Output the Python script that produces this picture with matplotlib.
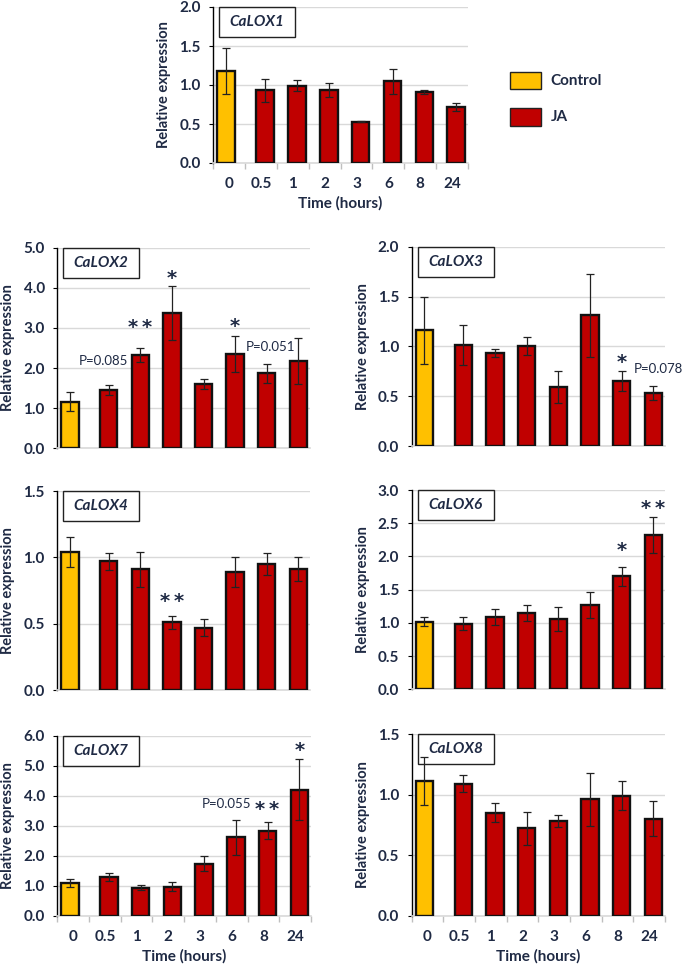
import matplotlib
matplotlib.use("Agg")
import matplotlib.pyplot as plt
from matplotlib.patches import Rectangle
from matplotlib.ticker import FormatStrFormatter, FixedLocator, MultipleLocator

plt.rcParams['font.family'] = ['Lato', 'DejaVu Sans']

times = ['0', '0.5', '1', '2', '3', '6', '8', '24']

lox1 = [1.18, 0.93, 0.99, 0.93, 0.53, 1.05, 0.91, 0.72]
err1 = [0.29, 0.15, 0.07, 0.09, 0.01, 0.16, 0.02, 0.05]
lox2 = [1.16, 1.45, 2.33, 3.38, 1.60, 2.36, 1.87, 2.18]
err2 = [0.24, 0.13, 0.18, 0.67, 0.12, 0.45, 0.23, 0.57]
lox3 = [1.16, 1.01, 0.93, 1.00, 0.59, 1.31, 0.65, 0.53]
err3 = [0.34, 0.20, 0.04, 0.09, 0.16, 0.42, 0.10, 0.07]
lox4 = [1.04, 0.97, 0.91, 0.51, 0.47, 0.89, 0.95, 0.91]
err4 = [0.11, 0.065, 0.13, 0.05, 0.065, 0.115, 0.08, 0.09]
lox6 = [1.02, 0.99, 1.09, 1.15, 1.06, 1.27, 1.70, 2.32]
err6 = [0.07, 0.10, 0.12, 0.12, 0.18, 0.19, 0.14, 0.27]
lox7 = [1.09, 1.28, 0.93, 0.97, 1.74, 2.61, 2.83, 4.20]
err7 = [0.12, 0.13, 0.08, 0.16, 0.24, 0.59, 0.28, 1.02]
lox8 = [1.11, 1.09, 0.85, 0.72, 0.78, 0.96, 0.99, 0.80]
err8 = [0.20, 0.07, 0.08, 0.135, 0.05, 0.22, 0.12, 0.145]

# annotations: (x position in category units, y, text)
ann2 = [(0.95, 2.18, 'P=0.085'), (2.13, 3.18, '**'), (3.13, 4.40, '*'), (5.13, 3.21, '*'), (6.25, 2.53, 'P=0.051')]
ann3 = [(6.13, 0.91, '*'), (7.29, 0.77, 'P=0.078')]
ann4 = [(3.13, 0.72, '**')]
ann6 = [(6.13, 2.20, '*'), (7.13, 2.82, '**')]
ann7 = [(4.85, 3.74, 'P=0.055'), (6.13, 3.77, '**'), (7.13, 5.74, '*')]
ann8 = []
ann1 = []

CTRL = '#FFC000'
JA = '#C00000'
TXT = '#1F2A44'
GRID = '#D9D9D9'

W, H = 685, 969
fig = plt.figure(figsize=(W / 100, H / 100), dpi=100)


def px_axes(l, t, r, b):
    return fig.add_axes([l / W, 1 - b / H, (r - l) / W, (b - t) / H])


panels = [
    ('CaLOX1', lox1, err1, ann1, 2.0, 0.5, (213.3, 7, 468, 163), True),
    ('CaLOX2', lox2, err2, ann2, 5.0, 1.0, (57.3, 247.7, 310, 448.3), False),
    ('CaLOX3', lox3, err3, ann3, 2.0, 0.5, (411.7, 246.7, 665, 446), False),
    ('CaLOX4', lox4, err4, ann4, 1.5, 0.5, (57.3, 491, 310, 690), False),
    ('CaLOX6', lox6, err6, ann6, 3.0, 0.5, (411.7, 490, 665, 689.3), False),
    ('CaLOX7', lox7, err7, ann7, 6.0, 1.0, (57.3, 735.7, 311, 915.7), True),
    ('CaLOX8', lox8, err8, ann8, 1.5, 0.5, (411.7, 734, 665, 915.7), True),
]

OFF_C, OFF_J, BW = -0.10, 0.13, 0.55

for name, vals, errs, anns, ymax, step, (l, t, r, b), xlab in panels:
    ax = px_axes(l, t, r, b)
    n = len(times)
    xs = [0 + OFF_C] + [i + OFF_J for i in range(1, n)]
    cols = [CTRL] + [JA] * (n - 1)
    ax.bar(xs, vals, width=BW, color=cols, edgecolor='#111111', linewidth=1.7, zorder=3)
    ax.errorbar(xs, vals, yerr=errs, fmt='none', ecolor='#222222', elinewidth=0.9,
                capsize=3, capthick=0.9, zorder=4)
    ax.set_xlim(-0.5, n - 0.5)
    ax.set_ylim(0, ymax)
    ax.yaxis.set_major_locator(MultipleLocator(step))
    ax.yaxis.set_major_formatter(FormatStrFormatter('%.1f'))
    ax.grid(axis='y', color=GRID, linewidth=1.0, zorder=0)
    ax.set_axisbelow(True)
    for s in ['top', 'right']:
        ax.spines[s].set_visible(False)
    ax.spines['left'].set_color('#000000')
    ax.spines['left'].set_linewidth(1.0)
    ax.spines['bottom'].set_color(GRID)
    ax.spines['bottom'].set_linewidth(1.2)
    ax.tick_params(axis='y', direction='out', length=3, width=0.8, color='#000000',
                   labelsize=11, labelcolor=TXT, pad=6)
    for lb in ax.get_yticklabels():
        lb.set_fontweight('bold')
    if xlab:
        ax.set_xticks(range(n))
        ax.set_xticklabels(times, fontsize=11, fontweight='bold', color=TXT)
        ax.tick_params(axis='x', which='major', length=0, pad=10)
        ax.xaxis.set_minor_locator(FixedLocator([i - 0.5 for i in range(n + 1)]))
        ax.tick_params(axis='x', which='minor', direction='out', length=4, width=1.0, color='#BFBFBF')
        ax.set_xlabel('Time (hours)', fontsize=11, fontweight='bold', color=TXT, labelpad=4)
    else:
        ax.set_xticks([])
    ax.set_ylabel('Relative expression', fontsize=10.5, fontweight='bold', color=TXT)
    awpx = r - l
    ahpx = b - t
    ax.yaxis.set_label_coords(-42 / awpx, 0.5)
    # name box
    bx0 = 6 / awpx
    bw = 76 / awpx
    bh = 30 / ahpx
    ax.add_patch(Rectangle((bx0, 1 - bh), bw, bh, transform=ax.transAxes, facecolor='none',
                           edgecolor='#222222', linewidth=1.0, zorder=5, clip_on=False))
    ax.text(bx0 + bw / 2, 1 - bh / 2, name, transform=ax.transAxes, ha='center', va='center',
            fontsize=11, fontweight='bold', fontstyle='italic', color=TXT, zorder=6)
    for xpos, y, txt in anns:
        if txt.startswith('P'):
            ax.text(xpos, y, txt, ha='center', va='center', fontsize=9.5, color=TXT,
                    clip_on=False)
        else:
            ax.annotate('\u2009'.join(txt), (xpos, y), xytext=(0, -9), textcoords='offset points',
                        ha='center', va='baseline', fontsize=14, fontweight='bold', color=TXT,
                        family='DejaVu Sans', annotation_clip=False)

# legend
for (y0, y1), col, lab in [((72.3, 89), CTRL, 'Control'), ((108.3, 125.7), JA, 'JA')]:
    fig.add_artist(Rectangle((510 / W, 1 - y1 / H), 30.7 / W, (y1 - y0) / H, transform=fig.transFigure,
                             facecolor=col, edgecolor='#222222', linewidth=1.0))
    fig.text(550.7 / W, 1 - (y0 + y1) / 2 / H, lab, ha='left', va='center', fontsize=11,
             fontweight='bold', color=TXT)

fig.savefig('out.png', dpi=100)
